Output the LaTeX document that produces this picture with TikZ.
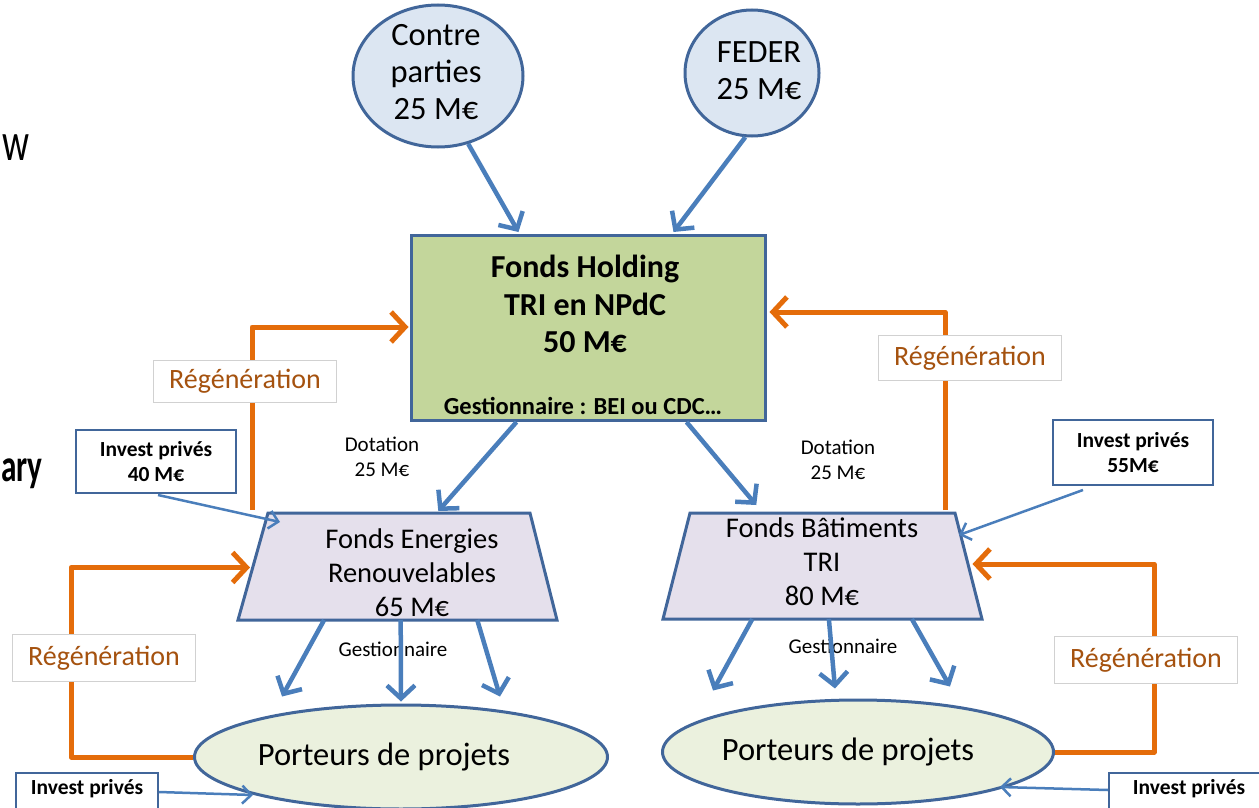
\documentclass[tikz,border=0pt]{standalone}
\usepackage{fontspec}
\setmainfont{Carlito}
\usetikzlibrary{arrows.meta,shapes.geometric,calc}
\definecolor{cblue}{HTML}{4A7EBB}
\definecolor{cborder}{HTML}{41669A}
\definecolor{corange}{HTML}{E46C0A}
\definecolor{cregtxt}{HTML}{A5520F}
\definecolor{ctop}{HTML}{DCE6F2}
\definecolor{cgreen}{HTML}{C3D69B}
\definecolor{clav}{HTML}{E5E0EC}
\definecolor{cpale}{HTML}{EBF1DE}
\tikzset{
  txt/.style={align=center, inner sep=0pt},
  topell/.style={ellipse, draw=cborder, fill=ctop, line width=3pt, inner sep=0pt},
  botell/.style={ellipse, draw=cborder, fill=cpale, line width=3pt, inner sep=0pt},
  trapbox/.style={draw=cborder, fill=clav, line width=3pt, line join=miter},
  bigarrow/.style={draw=cblue, line width=4.5pt, -{Straight Barb[length=13pt,width=28pt]}},
  thinarrow/.style={draw=cblue, line width=2.5pt, -{Straight Barb[length=9pt,width=18pt]}},
  regen/.style={draw=corange, line width=5pt, line join=round, -{Straight Barb[length=14pt,width=30pt]}},
  regbox/.style={draw=black!18, line width=1pt, fill=white, text=cregtxt, minimum width=183pt, font=\fontsize{28}{32}\selectfont},
  invbox/.style={draw=cborder, line width=2pt, fill=white, align=center, font=\bfseries\fontsize{21.5}{25}\selectfont},
  f32/.style={font=\fontsize{32.5}{37}\selectfont},
  f28/.style={font=\fontsize{28.5}{34}\selectfont},
  f21/.style={font=\fontsize{21}{25}\selectfont},
}
\begin{document}
\begin{tikzpicture}[x=1pt,y=-1pt]
\useasboundingbox (0,0) rectangle (1259,808);
\clip (0,0) rectangle (1259,808);

% slide fragments
\node[anchor=base west, inner sep=0pt, font=\fontsize{54}{54}\selectfont] (frag1) at (2,160) {\scalebox{0.7}[1]{w}};
\node[anchor=base west, inner sep=0pt, font=\bfseries\fontsize{46}{46}\selectfont] (frag2) at (1,481) {\scalebox{0.68}[1]{ary}};

% top ellipses
\node[topell, minimum width=170pt, minimum height=142pt] (cp) at (438,76) {};
\node[txt, f32] (cpt) at (436,72) {Contre\\parties\\25 M€};
\node[topell, minimum width=134pt, minimum height=126pt] (fe) at (752,73) {};
\node[txt, f32] (fet) at (759,71) {FEDER\\25 M€};

% holding
\node[draw=cborder, fill=cgreen, line width=3pt, minimum width=354pt, minimum height=185pt, inner sep=0pt] (hold) at (588,328) {};
\node[txt, font=\bfseries\fontsize{32}{37.5}\selectfont] (holdt) at (585,304) {Fonds Holding\\TRI en NPdC\\50 M€};
\node[txt, font=\bfseries\fontsize{24.5}{28}\selectfont] (holdg) at (583,406) {Gestionnaire : BEI ou CDC…};

% trapezoids
\draw[trapbox] (268,513) coordinate (fer-tl) -- (530,513) coordinate (fer-tr)
  -- (557,620) coordinate (fer-br) -- (238,620) coordinate (fer-bl) -- cycle;
\node[txt, f28] (fer) at (412,573) {Fonds Energies\\Renouvelables\\65 M€};
\draw[trapbox] (690,513) coordinate (fb-tl) -- (955,513) coordinate (fb-tr)
  -- (982,619) coordinate (fb-br) -- (663,619) coordinate (fb-bl) -- cycle;
\node[txt, f28] (fb) at (822,562) {Fonds Bâtiments\\TRI\\80 M€};

% bottom ellipses
\node[botell, minimum width=413pt, minimum height=104pt] (pl) at (401,757) {};
\node[txt, font=\fontsize{32.5}{36}\selectfont] (plt) at (384,757) {Porteurs de projets};
\node[botell, minimum width=391pt, minimum height=104pt] (pr) at (858,752) {};
\node[txt, font=\fontsize{32.5}{36}\selectfont] (prt) at (848,752) {Porteurs de projets};

% labels
\node[txt, f21] (dot1) at (382,457) {Dotation\\25 M€};
\node[txt, f21] (dot2) at (838,460) {Dotation\\25 M€};
\node[txt, f21] (ges1) at (393,649) {Gestionnaire};
\node[txt, f21] (ges2) at (843,646) {Gestionnaire};

% invest boxes
\node[invbox, minimum width=160pt, minimum height=63pt] (ip1) at (156,461.5) {Invest privés\\40 M€};
\node[invbox, minimum width=160pt, minimum height=65pt] (ip2) at (1133,452.5) {Invest privés\\55M€};
\node[invbox, anchor=north west, minimum width=142pt, text height=15pt, text depth=40pt, inner ysep=6pt, inner xsep=0pt] (ip3) at (15,772) {Invest privés};
\node[invbox, anchor=north west, minimum width=160pt, text height=15pt, text depth=40pt, inner ysep=6pt] (ip4) at (1108,772) {Invest privés};

% blue arrows
\draw[bigarrow] (cp.-66) -- ($(hold.north west)+(109,-2)$);
\draw[bigarrow] (fe.-96) -- ($(hold.north west)+(264,-2)$);
\draw[bigarrow] ($(hold.south west)+(107,0)$) -- ($(fer-tl)!0.65!(fer-tr)+(0,-2)$);
\draw[bigarrow] ($(hold.south west)+(277,0)$) -- ($(fb-tl)!0.25!(fb-tr)+(0,-8)$);
\draw[bigarrow] ($(fer-bl)!0.27!(fer-br)$) -- ($(pl.north)+(-119,-7)$);
\draw[bigarrow] ($(fer-bl)!0.51!(fer-br)$) -- ($(pl.north)+(0,-2)$);
\draw[bigarrow] ($(fer-bl)!0.75!(fer-br)$) -- ($(pl.north)+(99,-7)$);
\draw[bigarrow] ($(fb-bl)!0.28!(fb-br)$) -- ($(pr.north)+(-145,-8)$);
\draw[bigarrow] ($(fb-bl)!0.52!(fb-br)$) -- ($(pr.north)+(-23,-10)$);
\draw[bigarrow] ($(fb-bl)!0.78!(fb-br)$) -- ($(pr.north)+(92,-12)$);

\draw[thinarrow] ($(ip1.south)+(2,1)$) -- ($(fer-tl)+(12,9)$);
\draw[thinarrow] ($(ip2.south)+(-50,4)$) -- ($(fb-tr)+(4,22)$);
\draw[thinarrow] ($(ip3.north east)+(0,20)$) -- ($(pl.west)+(60,38)$);
\draw[thinarrow] ($(ip4.north west)+(0,18)$) -- ($(pr.center)+(142,35)$);

% regeneration loops
\draw[regen] ($(fer-tl)+(-16,-3)$) |- ($(hold.west)+(-1,-1)$);
\draw[regen] ($(fb-tr)+(-10,-3)$) |- ($(hold.east)+(3,-16)$);
\draw[regen] (pl.west) -- ++(-122,0) |- ($(fer-tl)!0.5!(fer-bl)+(-3,1)$);
\draw[regen] (pr.east) -- ++(99,0) |- ($(fb-tr)!0.5!(fb-br)+(4,-2)$);

\node[regbox, minimum height=42pt] (rg1) at (245,381) {Régénération};
\node[regbox, minimum height=45pt] (rg2) at (970,358) {Régénération};
\node[regbox, minimum height=47pt] (rg3) at (104,658) {Régénération};
\node[regbox, minimum height=47pt] (rg4) at (1146,660) {Régénération};
\end{tikzpicture}
\end{document}
